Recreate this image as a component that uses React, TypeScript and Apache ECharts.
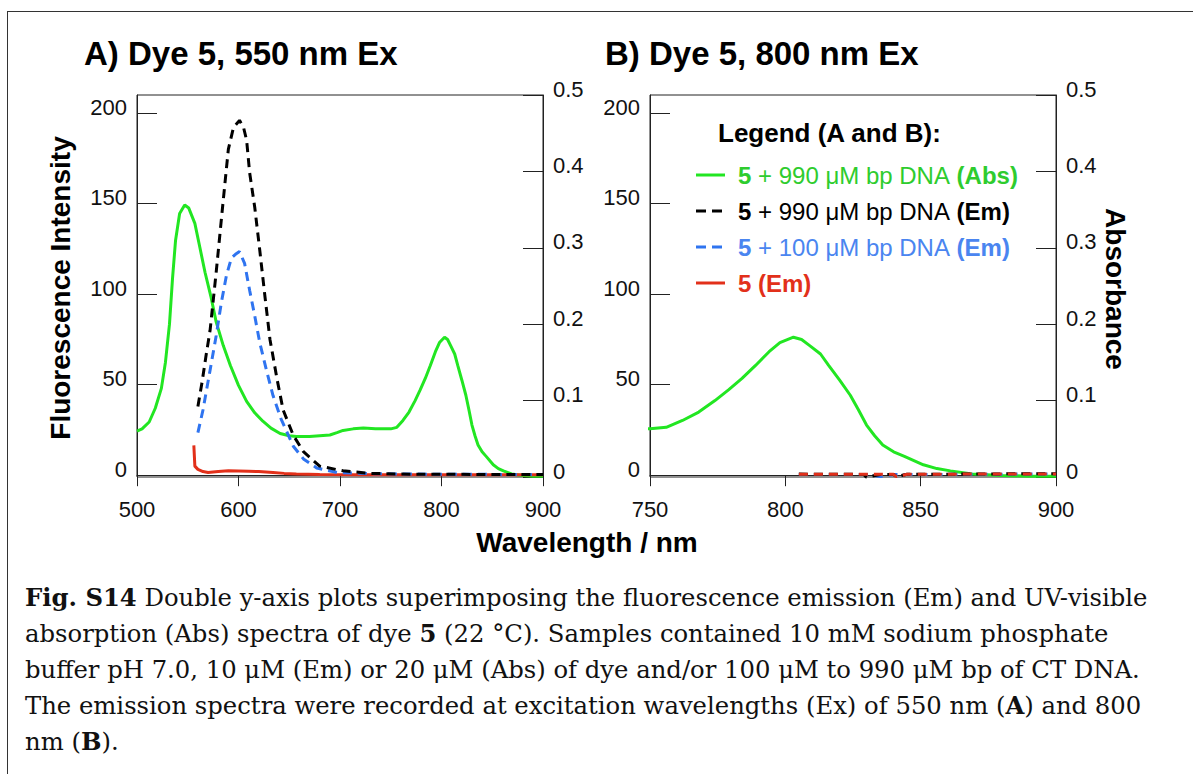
import React, { useEffect, useRef } from "react";
import * as echarts from "echarts";

// ---------- DATA ----------
// UV-vis absorbance of 5 + 990 uM bp DNA (right axis)
const absWl = [500, 505, 512, 518, 524, 528, 532, 535, 538, 542, 547, 551, 557, 562, 567, 573, 578, 585, 592, 600, 608, 616, 624, 632, 641, 650, 657, 670, 680, 690, 697, 703, 713, 723, 735, 745, 750, 756, 762, 768, 774, 779, 784, 789, 794, 798, 803, 806, 809, 813, 816, 820, 824, 827, 830, 833, 836, 840, 844, 851, 856, 861, 869, 880, 890, 900];
const absVal = [0.060, 0.063, 0.072, 0.090, 0.116, 0.150, 0.200, 0.260, 0.310, 0.345, 0.356, 0.352, 0.332, 0.300, 0.268, 0.235, 0.203, 0.172, 0.146, 0.120, 0.099, 0.084, 0.073, 0.064, 0.057, 0.054, 0.053, 0.053, 0.054, 0.055, 0.058, 0.061, 0.063, 0.064, 0.063, 0.063, 0.063, 0.065, 0.074, 0.085, 0.100, 0.114, 0.129, 0.146, 0.164, 0.176, 0.183, 0.180, 0.172, 0.161, 0.146, 0.127, 0.107, 0.088, 0.068, 0.054, 0.042, 0.033, 0.027, 0.016, 0.011, 0.008, 0.004, 0.002, 0.001, 0.001];

// Panel A emission (550 nm Ex)
const em990AWl = [560, 564, 568, 572, 578, 585, 590, 595, 601, 605, 608, 611, 616, 621, 626, 631, 638, 644, 654, 664, 680, 703, 730, 760, 800, 850, 900];
const em990AVal = [38, 51, 66, 80, 112, 152, 180, 192, 196, 192, 185, 167, 148, 124, 99, 75, 53, 36, 22, 13, 5, 2.4, 1, 0.6, 0.5, 0.4, 0.4];
const em100AWl = [560, 565, 572, 578, 583, 588, 593, 597, 601, 606, 611, 616, 621, 628, 634, 642, 654, 664, 677, 697, 730, 800, 900];
const em100AVal = [23.5, 36, 58, 77, 95, 110, 120, 122, 123.5, 117, 102, 88, 73, 57, 44, 31, 16, 9, 4, 1.5, 0.8, 0.5, 0.4];
const em0AWl = [556, 557, 560, 565, 570, 580, 590, 600, 610, 620, 634, 645, 657, 680, 720, 800, 900];
const em0AVal = [16.5, 5, 3.2, 2, 1.5, 2, 2.4, 2.3, 2.2, 2, 1.5, 1, 0.6, 0.4, 0.3, 0.3, 0.3];

// Panel B emission (800 nm Ex)
const emBWl = [805, 815, 825, 829, 830, 835, 840, 841, 845, 855, 865, 875, 885, 900];
const em990BVal = [0.6, 0.5, 0.5, 0.4, -1.2, 0.4, 0.4, -0.8, 0.5, 0.5, 0.6, 0.6, 0.8, 0.8];
const em100BVal = [0.4, 0.4, 0.4, 0.4, 0.4, -0.8, 0.4, 0.4, 0.4, 0.4, 0.5, 0.5, 0.6, 0.6];
const em0BVal = [0.5, 0.5, 0.5, 0.5, 0.5, 0.5, 0.5, -0.8, 0.5, 0.5, 0.6, 0.6, 0.7, 0.7];

const leftTicks = [0, 50, 100, 150, 200];
const xTicksA = [500, 900, 100];
const xTicksB = [750, 900, 50];

const captionLines = [
  "{b|Fig. S14} Double y-axis plots superimposing the fluorescence emission (Em) and UV-visible",
  "absorption (Abs) spectra of dye {b|5} (22 °C). Samples contained 10 mM sodium phosphate",
  "buffer pH 7.0, 10 μM (Em) or 20 μM (Abs) of dye and/or 100 μM to 990 μM bp of CT DNA.",
  "The emission spectra were recorded at excitation wavelengths (Ex) of 550 nm ({b|A}) and 800",
  "nm ({b|B}).",
];

// ---------- STYLE ----------
const FONT = "'Liberation Sans', Arial, Helvetica, sans-serif";
const SERIF = "'DejaVu Serif', 'Liberation Serif', serif";
const GREEN = "#22e622";
const GREEN_T = "#2ecc2e";
const BLACK = "#000000";
const BLUE = "#2f74f0";
const BLUE_T = "#4a85f0";
const RED = "#e2301a";
const AX = "#222";

const zip = (a: number[], b: number[]) => a.map((x, i) => [x, b[i]]);

export default function App() {
  const ref = useRef<HTMLDivElement>(null);
  useEffect(() => {
    if (!ref.current) return;
    const chart = echarts.init(ref.current, null, { renderer: "svg" });

    const xAxisBase = (idx: number, t: number[]) => ({
      gridIndex: idx,
      type: "value",
      min: t[0],
      max: t[1],
      interval: t[2],
      axisLine: { show: true, lineStyle: { color: AX, width: 1 } },
      axisTick: { show: true, inside: false, length: 11, lineStyle: { color: AX } },
      axisLabel: { fontSize: 22, color: "#111", margin: 21, fontFamily: FONT },
      splitLine: { show: false },
    });
    const yLeft = (idx: number) => ({
      gridIndex: idx,
      type: "value",
      position: "left",
      min: -1,
      max: 210,
      axisLine: { show: true, lineStyle: { color: AX } },
      axisTick: { show: true, inside: true, length: 20, lineStyle: { color: AX }, customValues: leftTicks },
      axisLabel: {
        fontSize: 22, color: "#111", margin: 10, fontFamily: FONT, customValues: leftTicks,
        verticalAlign: "bottom", lineHeight: 12,
      },
      splitLine: { show: false },
    });
    const yRight = (idx: number) => ({
      gridIndex: idx,
      type: "value",
      position: "right",
      min: 0,
      max: 0.5,
      interval: 0.1,
      axisLine: { show: true, lineStyle: { color: AX } },
      axisTick: { show: true, inside: true, length: 20, lineStyle: { color: AX } },
      axisLabel: {
        fontSize: 22, color: "#111", margin: 10, fontFamily: FONT,
        verticalAlign: "bottom", lineHeight: 12,
        formatter: (v: number) => (v === 0 ? "0" : v.toFixed(1)),
      },
      splitLine: { show: false },
    });

    const line = (name: string, x: number, y: number, data: number[][], color: string, dashed: boolean, z: number) => ({
      name, type: "line", xAxisIndex: x, yAxisIndex: y, data, showSymbol: false, symbol: "none",
      clip: true, z, silent: true,
      lineStyle: { color, width: 3, type: dashed ? [9, 6] : "solid", cap: "butt" },
    });

    const legendRows = [
      { y: 175, color: GREEN, dashed: false, text: "{c5|5} + 990 μM bp DNA {cb|(Abs)}", tc: GREEN_T },
      { y: 211, color: BLACK, dashed: true, text: "{c5|5} + 990 μM bp DNA {cb|(Em)}", tc: "#000" },
      { y: 247, color: BLUE, dashed: true, text: "{c5|5} + 100 μM bp DNA {cb|(Em)}", tc: BLUE_T },
      { y: 283, color: RED, dashed: false, text: "{c5|5} {cb|(Em)}", tc: RED },
    ];

    const graphics: any[] = [
      { type: "line", shape: { x1: 7, y1: 11.5, x2: 1193, y2: 11.5 }, style: { stroke: "#333", lineWidth: 1 } },
      { type: "line", shape: { x1: 7.5, y1: 11, x2: 7.5, y2: 774 }, style: { stroke: "#333", lineWidth: 1 } },
      { type: "text", x: 84, y: 53, style: { text: "A) Dye 5, 550 nm Ex", font: `bold 33px ${FONT}`, fill: "#000", verticalAlign: "middle" } },
      { type: "text", x: 605, y: 53, style: { text: "B) Dye 5, 800 nm Ex", font: `bold 33px ${FONT}`, fill: "#000", verticalAlign: "middle" } },
      { type: "text", x: 587, y: 542, style: { text: "Wavelength / nm", font: `bold 28px ${FONT}`, fill: "#000", align: "center", verticalAlign: "middle" } },
      { type: "text", x: 60, y: 288, rotation: Math.PI / 2, style: { text: "Fluorescence Intensity", font: `bold 28px ${FONT}`, fill: "#000", align: "center", verticalAlign: "middle" } },
      { type: "text", x: 1115, y: 289, rotation: -Math.PI / 2, style: { text: "Absorbance", font: `bold 28px ${FONT}`, fill: "#000", align: "center", verticalAlign: "middle" } },
      { type: "text", x: 718, y: 133, style: { text: "Legend (A and B):", font: `bold 26px ${FONT}`, fill: "#000", verticalAlign: "middle" } },
    ];
    legendRows.forEach((r) => {
      graphics.push({
        type: "line", shape: { x1: 696, y1: r.y, x2: 725, y2: r.y },
        style: { stroke: r.color, lineWidth: 3, lineDash: r.dashed ? [10, 6] : null },
      });
      graphics.push({
        type: "text", x: 738, y: r.y,
        style: {
          text: r.text, font: `24px ${FONT}`, fill: r.tc, verticalAlign: "middle",
          rich: {
            c5: { fontFamily: FONT, fontSize: 24, fontWeight: "bold", fill: r.tc },
            cb: { fontFamily: FONT, fontSize: 24, fontWeight: "bold", fill: r.tc },
          },
        },
      });
    });
    const capY = [597, 633, 669, 705, 741];
    captionLines.forEach((t, i) => {
      graphics.push({
        type: "text", x: 25, y: capY[i],
        style: {
          text: t, font: `24.3px ${SERIF}`, fill: "#111", verticalAlign: "middle",
          rich: { b: { fontFamily: SERIF, fontSize: 24.3, fontWeight: "bold", fill: "#111" } },
        },
      });
    });

    chart.setOption({
      animation: false,
      grid: [
        { left: 137, top: 95, width: 406, height: 382, show: true, borderColor: AX, borderWidth: 1, backgroundColor: "transparent" },
        { left: 650, top: 95, width: 406, height: 382, show: true, borderColor: AX, borderWidth: 1, backgroundColor: "transparent" },
      ],
      xAxis: [xAxisBase(0, xTicksA), xAxisBase(1, xTicksB)],
      yAxis: [yLeft(0), yRight(0), yLeft(1), yRight(1)],
      series: [
        line("A abs", 0, 1, zip(absWl, absVal), GREEN, false, 2),
        line("A 5", 0, 0, zip(em0AWl, em0AVal), RED, false, 3),
        line("A 100", 0, 0, zip(em100AWl, em100AVal), BLUE, true, 4),
        line("A 990", 0, 0, zip(em990AWl, em990AVal), BLACK, true, 5),
        line("B abs", 1, 3, zip(absWl, absVal), GREEN, false, 2),
        line("B 100", 1, 2, zip(emBWl, em100BVal), BLUE, true, 3),
        line("B 990", 1, 2, zip(emBWl, em990BVal), BLACK, true, 4),
        line("B 5", 1, 2, zip(emBWl, em0BVal), RED, true, 5),
      ],
      graphic: graphics,
    });
    return () => chart.dispose();
  }, []);

  return <div ref={ref} style={{ position: "absolute", left: 0, top: 0, width: 1193, height: 774, background: "#fff" }} />;
}
